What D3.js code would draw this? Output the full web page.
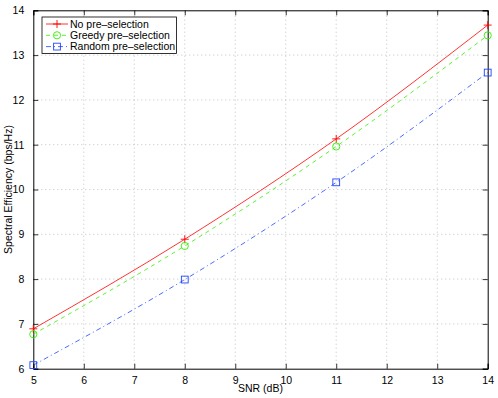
<!DOCTYPE html>
<html>
<head>
<meta charset="utf-8">
<script src="https://cdn.jsdelivr.net/npm/d3@7"></script>
<style>
  body { margin: 0; background: #fff; }
  text { font-family: "Liberation Sans", Arial, sans-serif; }
</style>
</head>
<body>
<div id="container"></div>
<script>
const width = 498;
const height = 398;
const margin = { t: 10.3, r: 10.3, b: 29.3, l: 33.3 };

const snr = [5, 8, 11, 14];
const noSel = [6.89, 8.89, 11.13, 13.67];
const greedySel = [6.77, 8.74, 10.96, 13.44];
const randomSel = [6.08, 7.99, 10.16, 12.61];
const xTicks = [5, 6, 7, 8, 9, 10, 11, 12, 13, 14];
const yTicks = [6, 7, 8, 9, 10, 11, 12, 13, 14];

const series = [
  { name: "No pre\u2013selection", values: noSel, color: "#ff0000", dash: null, marker: "plus" },
  { name: "Greedy pre\u2013selection", values: greedySel, color: "#33ee00", dash: "4,4", marker: "circle" },
  { name: "Random pre\u2013selection", values: randomSel, color: "#2244ff", dash: "5,3,1,3", marker: "square" }
];

const x = d3.scaleLinear().domain([5, 14]).range([margin.l, width - margin.r]);
const y = d3.scaleLinear().domain([6, 14]).range([height - margin.b, margin.t]);

const svg = d3.select("#container")
  .append("svg")
  .attr("width", width)
  .attr("height", height);

// grid
const grid = svg.append("g")
  .attr("stroke", "#999")
  .attr("stroke-width", 0.6)
  .attr("stroke-dasharray", "1,3");
grid.selectAll(".gx").data(xTicks.slice(1, -1)).enter().append("line")
  .attr("x1", d => x(d)).attr("x2", d => x(d))
  .attr("y1", y(6)).attr("y2", y(14));
grid.selectAll(".gy").data(yTicks.slice(1, -1)).enter().append("line")
  .attr("y1", d => y(d)).attr("y2", d => y(d))
  .attr("x1", x(5)).attr("x2", x(14));

// axes
const tk = 5;
svg.append("g")
  .attr("transform", `translate(0,${y(6)})`)
  .call(d3.axisBottom(x).tickValues(xTicks).tickSize(-tk).tickPadding(8).tickFormat(d3.format("d")));
svg.append("g")
  .attr("transform", `translate(0,${y(14)})`)
  .call(d3.axisTop(x).tickValues(xTicks).tickSize(-tk).tickFormat(""));
svg.append("g")
  .attr("transform", `translate(${x(5)},0)`)
  .call(d3.axisLeft(y).tickValues(yTicks).tickSize(-tk).tickPadding(9).tickFormat(d3.format("d")));
svg.append("g")
  .attr("transform", `translate(${x(14)},0)`)
  .call(d3.axisRight(y).tickValues(yTicks).tickSize(-tk).tickFormat(""));

svg.selectAll(".domain").attr("stroke", "#000").attr("stroke-width", 1);
svg.selectAll(".tick line").attr("stroke", "#000").attr("stroke-width", 0.8);
svg.selectAll(".tick text")
  .attr("font-family", "'Liberation Sans', Arial, sans-serif")
  .attr("font-size", "10.5px")
  .attr("fill", "#000");

// lines
const line = d3.line()
  .x((d, i) => x(snr[i]))
  .y(d => y(d))
  .curve(d3.curveMonotoneX);

function drawMarker(g, type, cx, cy, color) {
  if (type === "plus") {
    g.append("path")
      .attr("d", `M${cx - 4},${cy}H${cx + 4}M${cx},${cy - 4}V${cy + 4}`)
      .attr("stroke", color).attr("stroke-width", 0.9).attr("fill", "none");
  } else if (type === "circle") {
    g.append("circle")
      .attr("cx", cx).attr("cy", cy).attr("r", 3.6)
      .attr("stroke", color).attr("stroke-width", 0.9).attr("fill", "none");
  } else {
    g.append("rect")
      .attr("x", cx - 3.4).attr("y", cy - 3.4)
      .attr("width", 6.8).attr("height", 6.8)
      .attr("stroke", color).attr("stroke-width", 0.9).attr("fill", "none");
  }
}

series.forEach(s => {
  svg.append("path")
    .datum(s.values)
    .attr("d", line)
    .attr("fill", "none")
    .attr("stroke", s.color)
    .attr("stroke-width", 0.8)
    .attr("stroke-dasharray", s.dash);
  const mg = svg.append("g");
  s.values.forEach((v, i) => drawMarker(mg, s.marker, x(snr[i]), y(v), s.color));
});

// legend
const lg = svg.append("g").attr("transform", "translate(42,17)");
lg.append("rect")
  .attr("width", 134.5).attr("height", 36.5)
  .attr("fill", "#fff").attr("stroke", "#000").attr("stroke-width", 0.8);
series.forEach((s, i) => {
  const cy = 7 + i * 11.3;
  lg.append("line")
    .attr("x1", 4).attr("x2", 26).attr("y1", cy).attr("y2", cy)
    .attr("stroke", s.color).attr("stroke-width", 0.8)
    .attr("stroke-dasharray", s.dash);
  drawMarker(lg, s.marker, 15, cy, s.color);
  lg.append("text")
    .attr("x", 28).attr("y", cy + 3.8)
    .attr("font-size", "10.5px")
    .text(s.name);
});

// labels
svg.append("text")
  .attr("x", x(9.5))
  .attr("y", height - 6)
  .attr("text-anchor", "middle")
  .attr("font-size", "10.5px")
  .text("SNR (dB)");

svg.append("text")
  .attr("transform", `translate(12,${y(10)}) rotate(-90)`)
  .attr("text-anchor", "middle")
  .attr("font-size", "10.5px")
  .text("Spectral Efficiency (bps/Hz)");
</script>
</body>
</html>
